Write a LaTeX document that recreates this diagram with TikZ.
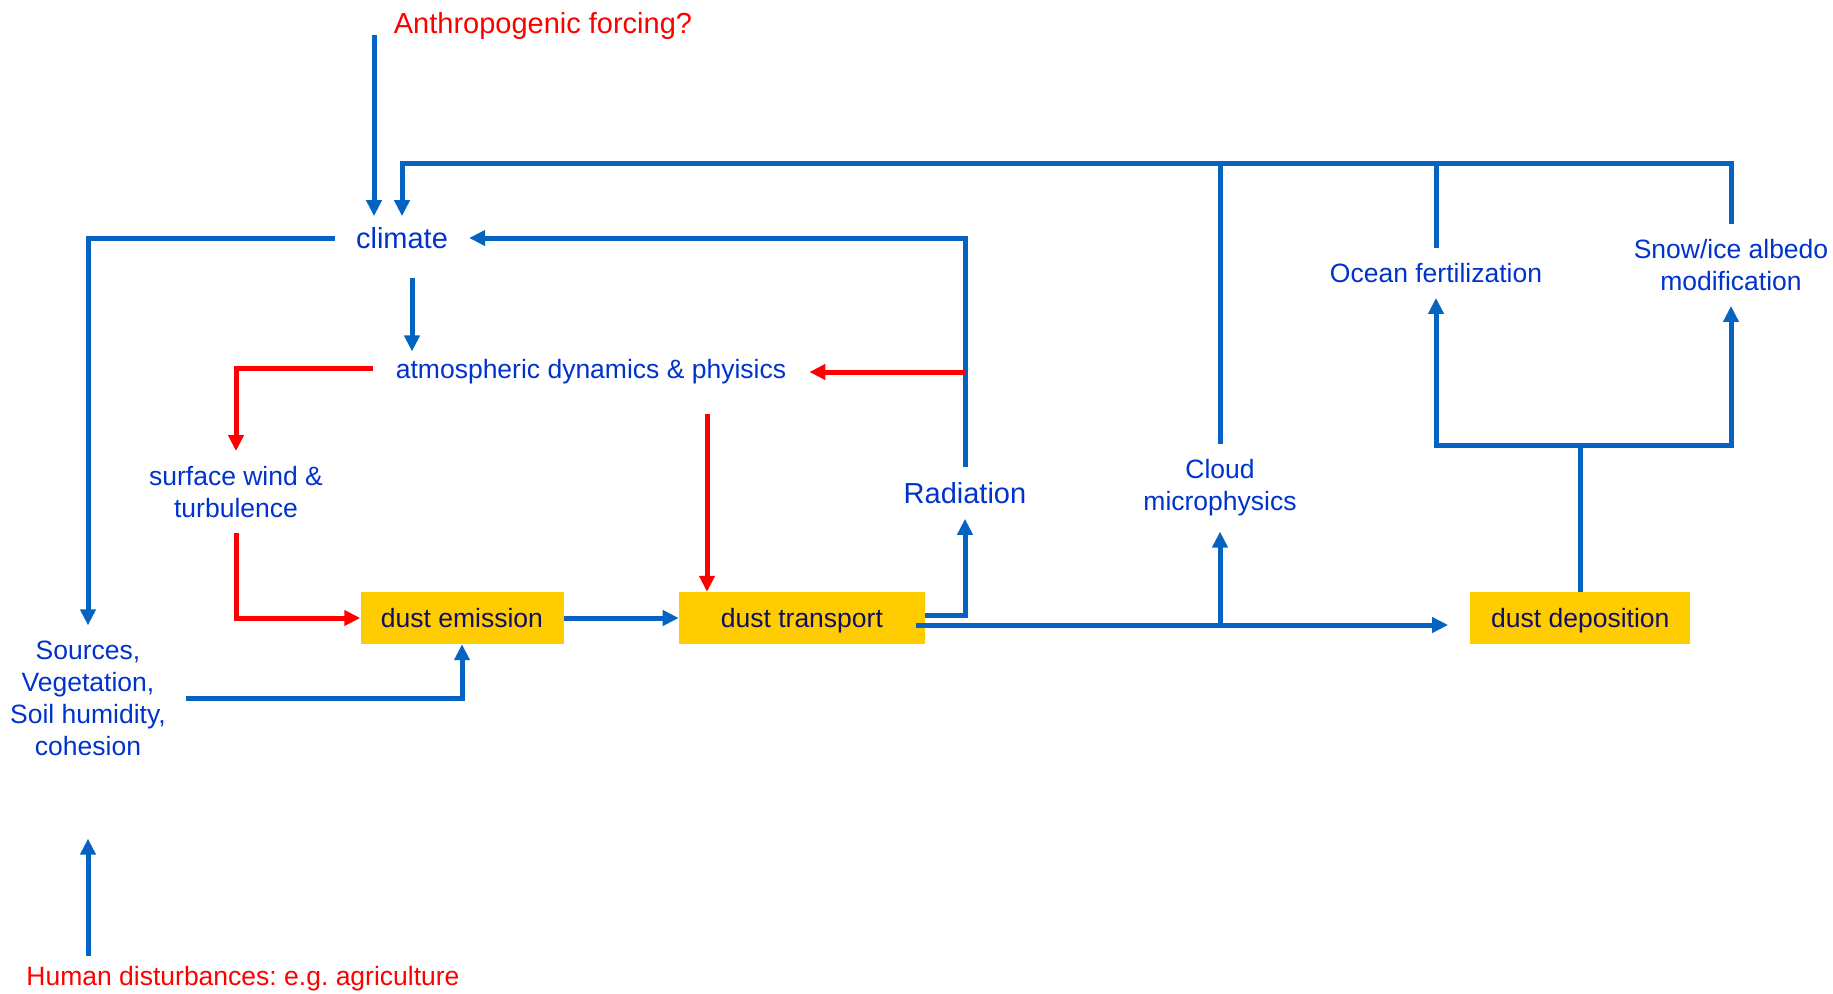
\documentclass[tikz,border=0pt]{standalone}
\usepackage{fontspec}
\setmainfont{Liberation Sans}
\usepackage{tikz}
\usetikzlibrary{arrows.meta,positioning}
\definecolor{lineblue}{RGB}{5,99,193}
\definecolor{labelblue}{RGB}{0,51,204}
\definecolor{dustyellow}{RGB}{255,204,0}
\definecolor{dustnavy}{RGB}{16,16,96}
\definecolor{forcered}{RGB}{255,0,0}
\newcommand{\lblfont}{\fontsize{26.5}{32}\selectfont}
\newcommand{\bigfont}{\fontsize{29}{34}\selectfont}
\frenchspacing
\tikzset{
  quantity/.style={text=labelblue, font=\lblfont, align=center, inner xsep=20pt, inner ysep=15pt},
  forcing/.style={text=forcered, font=\lblfont, inner sep=0pt},
  process/.style={fill=dustyellow, text=dustnavy, font=\lblfont, minimum height=52pt, inner sep=0pt,
    text height=18pt, text depth=0pt},
  link/.style={draw=lineblue, line width=5pt},
  flow/.style={link, ->},
  feedback/.style={draw=forcered, line width=5pt, ->}
}

\begin{document}
\begin{tikzpicture}[x=1pt,y=-1pt,>={Triangle[length=16pt,width=15pt]}]
  \useasboundingbox (0,0) rectangle (1833,993);

  \node[forcing, font=\bigfont] (anthro) at (543,26) {Anthropogenic forcing?};
  \node[quantity, font=\bigfont, inner xsep=21pt, inner ysep=11pt] (climate) at (402,238) {climate};
  \node[quantity, inner xsep=23pt, inner ysep=8pt] (atm) at (591,372) {atmospheric dynamics \& phyisics};
  \node[quantity] (wind) at (236,492) {surface wind \&\\turbulence};
  \node[quantity, font=\bigfont] (rad) at (965,493) {Radiation};
  \node[quantity] (cloud) at (1220,488) {Cloud\\microphysics};
  \node[quantity] (ocean) at (1436,273) {Ocean fertilization};
  \node[quantity] (snow) at (1731,265) {Snow/ice albedo\\modification};
  \node[quantity] (sources) at (88,698) {Sources,\\Vegetation,\\Soil humidity,\\cohesion};
  \node[forcing] (human) at (243,979) {Human disturbances: e.g. agriculture};

  \node[process, minimum width=203pt] (emission) at (462,618) {dust emission};
  \node[process, minimum width=246pt, right=115pt of emission] (transport) {dust transport};
  \node[process, minimum width=220pt, right=545pt of transport] (deposition) {dust deposition};

  \coordinate (forcing_in) at (374,35);
  \coordinate (bus) at (1731,163);
  \coordinate (main) at ([xshift=-9pt,yshift=-7pt]transport.east);

  % feedbacks onto climate
  \draw[flow] (forcing_in) -- (forcing_in |- climate.north);
  \draw[flow] (snow.north) -- (bus) -| (climate.north);
  \draw[link] (ocean.north) -- (ocean.north |- bus);
  \draw[link] (cloud.north) -- (cloud.north |- bus);
  \draw[flow] (rad.north) |- (climate.east);
  \draw[feedback] (rad.north |- atm.east) -- (atm.east);

  \draw[flow, shorten <=18pt] ([xshift=10pt]climate.south) -- ([xshift=10pt]climate.south |- atm.north);
  \draw[flow] (climate.west) -| (sources.north);

  % dust cycle
  \draw[feedback] ([yshift=4pt]atm.west) -| (wind.north);
  \draw[feedback] (wind.south) |- (emission.west);
  \draw[feedback, shorten <=21pt] ([xshift=116pt]atm.south) -- ([xshift=116pt]atm.south |- transport.north);
  \draw[flow] (emission.east) -- (transport.west);
  \draw[flow] (sources.east) -| (emission.south);
  \draw[flow] ([yshift=3pt]transport.east) -| (rad.south);
  \draw[flow, shorten >=22pt] (main) -- (main -| deposition.west);
  \draw[flow] (main -| cloud.south) -- (cloud.south);
  \draw[flow] (deposition.north) -- ++(0,-146) -| (ocean.south);
  \draw[flow] (deposition.north) -- ++(0,-146) -| (snow.south);
  \draw[flow, shorten >=68pt] ([yshift=10pt]human.north -| sources.south) -- (sources.south);
\end{tikzpicture}
\end{document}
